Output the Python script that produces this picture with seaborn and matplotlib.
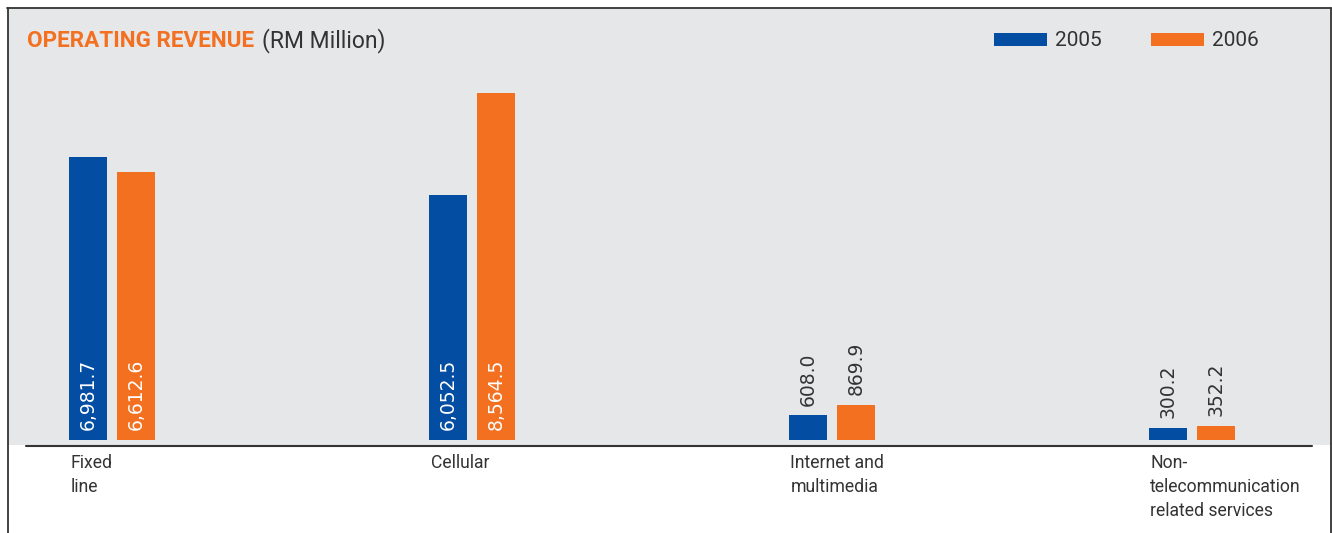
import matplotlib
matplotlib.use("Agg")
import matplotlib.pyplot as plt
from matplotlib.lines import Line2D
import seaborn as sns
import pandas as pd

# ---- data ----
categories = ["Fixed line", "Cellular", "Internet and multimedia", "Non-telecommunication related services"]
cat_labels = ["Fixed\nline", "Cellular", "Internet and\nmultimedia", "Non-\ntelecommunication\nrelated services"]
years = ["2005", "2006"]
values_2005 = [6981.7, 6052.5, 608.0, 300.2]
values_2006 = [6612.6, 8564.5, 869.9, 352.2]

BLUE = "#034ea2"
ORANGE = "#f37021"
GRAY_BG = "#e6e7e8"
DARK = "#333333"

df = pd.DataFrame({
    "category": categories * 2,
    "year": [years[0]] * 4 + [years[1]] * 4,
    "value": values_2005 + values_2006,
})

sns.set_style("white")
plt.rcParams["font.family"] = ["Roboto", "DejaVu Sans"]

W, H = 1332, 533
fig = plt.figure(figsize=(W / 100, H / 100), dpi=100)
fig.patch.set_facecolor("white")

# axes covering the gray panel
ax_left, ax_right, ax_top, ax_bot = 8, 1330, 8, 445
ax = fig.add_axes([ax_left / W, 1 - ax_bot / H, (ax_right - ax_left) / W, (ax_bot - ax_top) / H])
ax.set_facecolor(GRAY_BG)

unit_px = 359.95
origin_px = 112.2
group_w = 96 / unit_px
sns.barplot(data=df, x="category", y="value", hue="year", order=categories,
            hue_order=years, palette={years[0]: BLUE, years[1]: ORANGE},
            width=group_w, gap=0.2083, saturation=1, linewidth=0, edgecolor="none",
            ax=ax, legend=True)

# scale
px_per_unit = 347 / 8564.5
ax_h_px = ax_bot - ax_top
ymin = -5 / px_per_unit
ax.set_ylim(ymin, ymin + ax_h_px / px_per_unit)
ax.set_xlim((ax_left - origin_px) / unit_px, (ax_right - origin_px) / unit_px)

for s in ax.spines.values():
    s.set_visible(False)
ax.set_xticks([])
ax.set_yticks([])
ax.set_xlabel("")
ax.set_ylabel("")

# value labels
for cont in ax.containers:
    for bar in cont:
        v = bar.get_height()
        xc = bar.get_x() + bar.get_width() / 2
        txt = f"{v:,.1f}"
        inside = v > 2000
        ax.annotate(txt, xy=(xc, 0 if inside else v), xytext=(0, 7.0), textcoords="offset points",
                    rotation=90, ha="center", va="bottom",
                    color="white" if inside else DARK, fontsize=13.5,
                    family=["DejaVu Sans"])

# category labels, left-aligned with the first bar of each group
first_bars = list(ax.containers[0])
for bar, lab in zip(first_bars, cat_labels):
    ax.annotate(lab, xy=(bar.get_x(), 0), xycoords=("data", "axes fraction"),
                xytext=(1.0, -6.5), textcoords="offset points", ha="left", va="top",
                fontsize=12.7, color=DARK, linespacing=1.42, annotation_clip=False)

# title
t = fig.text(27 / W, 1 - 41 / H, "OPERATING REVENUE", fontsize=16.2, fontweight="bold",
             color=ORANGE, ha="left", va="center")
ax.annotate("(RM Million)", xy=(1, 0.5), xycoords=t, xytext=(6, 0), textcoords="offset points",
            ha="left", va="center", fontsize=16.5, color=DARK, annotation_clip=False)

# legend
handles, labels = ax.get_legend_handles_labels()
ax.legend(handles, labels, loc="center left", bbox_to_anchor=(994 / W, 1 - 41 / H),
          bbox_transform=fig.transFigure, ncol=2, frameon=False, fontsize=15,
          handlelength=2.55, handleheight=0.6, handletextpad=0.38, columnspacing=2.35,
          borderpad=0, borderaxespad=0, labelcolor=DARK)

# frame lines and baseline
fig.add_artist(Line2D([7 / W, 1330.5 / W], [1 - 7.5 / H, 1 - 7.5 / H], color=DARK, lw=1.3))
fig.add_artist(Line2D([7.5 / W, 7.5 / W], [0, 1 - 7.5 / H], color=DARK, lw=1.3))
fig.add_artist(Line2D([1330.5 / W, 1330.5 / W], [0, 1 - 7.5 / H], color=DARK, lw=1.3))
fig.add_artist(Line2D([26 / W, 1312 / W], [1 - 445.7 / H, 1 - 445.7 / H], color=DARK, lw=1.5))

fig.savefig("out.png", dpi=100, facecolor="white")
